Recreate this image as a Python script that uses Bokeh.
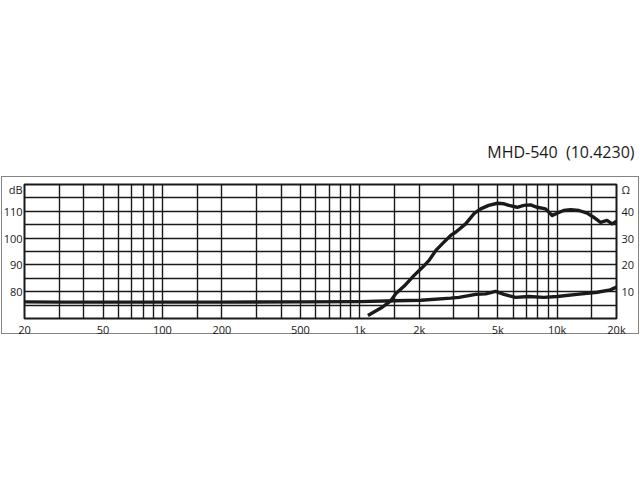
from bokeh.plotting import figure
from bokeh.models import Range1d, LinearAxis, FixedTicker
from bokeh.embed import file_html
from bokeh.resources import INLINE

# ---- data ----
spl_freq = [1100, 1180, 1300, 1440, 1520, 1680, 1880, 2080, 2240, 2430, 2670, 2890,
            3060, 3440, 3790, 4100, 4500, 4980, 5380, 5700, 6280, 6780, 7340, 7930,
            8740, 9450, 10000, 10800, 11700, 12900, 14200, 15300, 16600, 17900, 19000, 20000]
spl_db = [71.1, 72.4, 74.2, 76.7, 79.2, 82.1, 86.0, 89.1, 91.6, 95.4, 98.5, 101.0,
          102.2, 105.3, 109.1, 110.9, 112.2, 113.0, 112.8, 112.2, 111.5, 112.2, 112.4, 111.5,
          110.9, 108.4, 109.3, 110.3, 110.6, 110.3, 109.3, 107.8, 105.9, 106.6, 105.3, 106.3]

imp_freq = [20, 30, 50, 100, 200, 500, 1000, 1500, 2040, 2890, 3180, 3870, 4350, 4880,
            5380, 6160, 7190, 8570, 10000, 12600, 16000, 18600, 20000]
imp_ohm = [6.2, 6.1, 6.1, 6.1, 6.1, 6.2, 6.3, 6.6, 6.8, 7.6, 7.9, 9.0, 9.2, 10.1,
           9.0, 7.9, 8.2, 7.9, 8.2, 9.0, 9.8, 10.7, 11.7]

x_ticks = [20, 50, 100, 200, 500, 1000, 2000, 5000, 10000, 20000]
x_tick_labels = ["20", "50", "100", "200", "500", "1k", "2k", "5k", "10k", "20k"]
x_grid = [20, 30, 40, 50, 60, 70, 80, 90, 100, 150, 200, 300, 400, 500, 600, 700, 800, 900,
          1000, 1500, 2000, 3000, 4000, 5000, 6000, 7000, 8000, 9000, 10000, 15000, 20000]
db_ticks = [80, 90, 100, 110]
db_grid = [70, 75, 80, 85, 90, 95, 100, 105, 110, 115, 120]
ohm_ticks = [10, 20, 30, 40]
title_text = "MHD-540\u00a0 (10.4230)"

INK = "#1a1a1a"
FONT = "Open Sans"

# outer decorative frame drawn as a CSS background behind a transparent canvas
G = "linear-gradient(#858585,#858585)"
frame_styles = {
    "background-image": ",".join([G] * 4),
    "background-position": "1px 176px, 1px 333px, 1px 176px, 638px 176px",
    "background-size": "638px 1px, 638px 1px, 1px 158px, 1px 158px",
    "background-repeat": "no-repeat",
}

p = figure(width=640, height=400, x_axis_type="log",
           x_range=Range1d(20, 20000), y_range=Range1d(70, 120),
           output_backend="svg", toolbar_location=None,
           min_border_left=23, min_border_right=24, min_border_top=184, min_border_bottom=82,
           styles=frame_styles)
p.extra_y_ranges = {"ohm": Range1d(0, 50)}

p.outline_line_color = INK
p.outline_line_width = 2
p.background_fill_color = "white"
p.border_fill_color = None

# title
p.title.text = title_text
p.title.align = "right"
p.title.offset = -18
p.title.standoff = 43
p.title.text_font = FONT
p.title.text_font_size = "16px"
p.title.text_font_style = "normal"
p.title.text_color = INK

# grids
p.xgrid.ticker = FixedTicker(ticks=x_grid)
p.ygrid.ticker = FixedTicker(ticks=db_grid)
for g in (p.xgrid, p.ygrid):
    g.grid_line_color = INK
    g.grid_line_width = 1.4
    g.grid_line_alpha = 1.0

def style_axis(ax, standoff):
    ax.axis_line_color = None
    ax.major_tick_line_color = None
    ax.minor_tick_line_color = None
    ax.major_tick_out = 0
    ax.major_tick_in = 0
    ax.minor_tick_out = 0
    ax.minor_tick_in = 0
    ax.major_label_text_font = FONT
    ax.major_label_text_font_size = "11px"
    ax.major_label_text_color = INK
    ax.major_label_standoff = standoff

# x axis
xa = p.xaxis[0]
xa.ticker = FixedTicker(ticks=x_ticks)
xa.major_label_overrides = {t: l for t, l in zip(x_ticks, x_tick_labels)}
style_axis(xa, 3)

# left dB axis
db_unit_pos = 118.1
ya = p.yaxis[0]
ya.ticker = FixedTicker(ticks=db_ticks + [db_unit_pos])
ya.major_label_overrides = {db_unit_pos: "dB"}
style_axis(ya, 2)

# right ohm axis
ohm_unit_pos = 48.1
ra = LinearAxis(y_range_name="ohm", ticker=FixedTicker(ticks=ohm_ticks + [ohm_unit_pos]),
                major_label_overrides={ohm_unit_pos: "Ω"})
style_axis(ra, 5)
p.add_layout(ra, "right")

# curves
p.line(imp_freq, imp_ohm, y_range_name="ohm", line_color=INK, line_width=3.4, line_join="round")
p.line(spl_freq, spl_db, line_color=INK, line_width=3.4, line_join="round")

open("out.html", "w").write(file_html(p, INLINE))
